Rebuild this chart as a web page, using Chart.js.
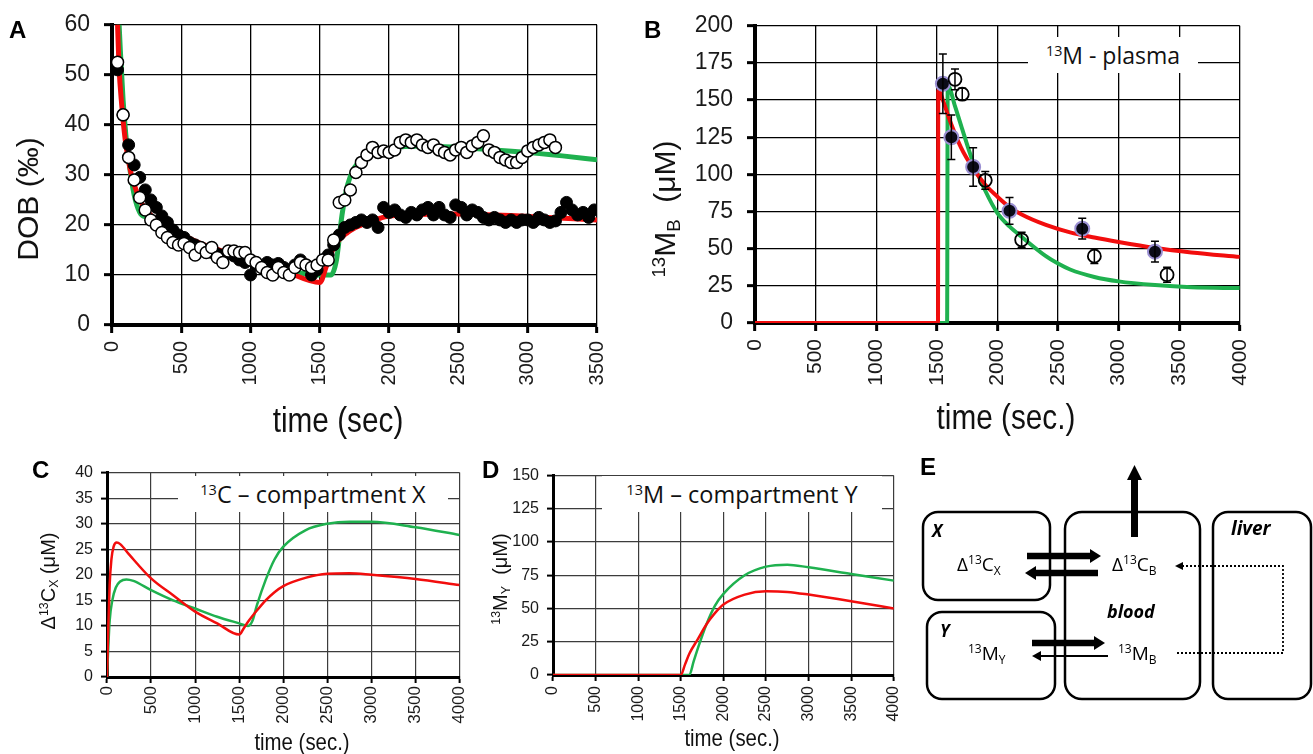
<!DOCTYPE html>
<html>
<head>
<meta charset="utf-8">
<script src="https://cdn.jsdelivr.net/npm/chart.js@4.4.1/dist/chart.umd.min.js"></script>
<style>
  body { margin: 0; background: #fff; width: 1313px; height: 754px; overflow: hidden; position: relative; }
  canvas { position: absolute; }
  .letter { position: absolute; font: bold 24px 'Liberation Sans', Arial, sans-serif; color: #000; }
  .ytitle { position: absolute; transform: translate(-50%, -50%) rotate(-90deg); white-space: nowrap;
            font-family: 'Liberation Sans', Arial, sans-serif; color: #111; }
  .xtitle { position: absolute; transform: translate(-50%, -50%) scaleX(0.85); white-space: nowrap;
            font-family: 'Liberation Sans', Arial, sans-serif; color: #111; }
  .note { position: absolute; background: #fff; display: flex; align-items: center; justify-content: center;
          font-family: 'Open Sans', 'Noto Sans', sans-serif; color: #111; white-space: nowrap; }
  sup { font-size: .62em; vertical-align: .55em; line-height: 0; }
  sub { font-size: .62em; vertical-align: -.25em; line-height: 0; }
  svg { position: absolute; }
</style>
</head>
<body>
<canvas id="chartA" width="629" height="453" style="left:0;top:-3px"></canvas>
<canvas id="chartB" width="633" height="452" style="left:640px;top:-2px"></canvas>
<canvas id="chartC" width="483" height="299" style="left:0;top:455px"></canvas>
<canvas id="chartD" width="458" height="296" style="left:460px;top:458px"></canvas>

<div class="letter" style="left:9px;top:16px">A</div>
<div class="letter" style="left:644px;top:16px">B</div>
<div class="letter" style="left:32px;top:456px">C</div>
<div class="letter" style="left:482px;top:456px">D</div>

<div class="ytitle" style="left:28px;top:199px;font-size:30px">DOB (‰)</div>
<div class="xtitle" style="left:338px;top:420px;font-size:35px">time (sec)</div>
<div class="ytitle" style="left:665px;top:209px;font-size:30px"><sup>13</sup>M<sub>B</sub>&nbsp;&nbsp;(μM)</div>
<div class="xtitle" style="left:1006px;top:417px;font-size:35px">time (sec.)</div>
<div class="ytitle" style="left:48px;top:581px;font-size:20px">Δ<sup>13</sup>C<sub>X</sub> (μM)</div>
<div class="xtitle" style="left:302px;top:742px;font-size:24px">time (sec.)</div>
<div class="ytitle" style="left:500px;top:579px;font-size:20px"><sup>13</sup>M<sub>Y</sub>&nbsp; (μM)</div>
<div class="xtitle" style="left:732px;top:738px;font-size:24px">time (sec.)</div>

<div class="note" style="left:1028px;top:37px;width:170px;height:36px;font-size:23px"><span><sup>13</sup>M - plasma</span></div>
<div class="note" style="left:178px;top:476px;width:270px;height:36px;font-size:23.5px"><span><sup>13</sup>C – compartment X</span></div>
<div class="note" style="left:602px;top:476px;width:280px;height:36px;font-size:23.5px"><span><sup>13</sup>M – compartment Y</span></div>

<svg width="413" height="299" style="left:900px;top:455px" font-family="'Open Sans','Noto Sans',sans-serif">
  <g transform="translate(-900,-455)" fill="none" stroke="#000">
    <rect x="923" y="512" width="127" height="88" rx="15" stroke-width="2.5"/>
    <rect x="927" y="612" width="128" height="87" rx="15" stroke-width="2.5"/>
    <rect x="1065" y="512" width="135" height="187" rx="17" stroke-width="2.5"/>
    <rect x="1213" y="512" width="98" height="187" rx="15" stroke-width="2.5"/>
    <!-- flux arrows -->
    <line x1="1027" y1="556" x2="1092" y2="556" stroke-width="6.5"/>
    <line x1="1034" y1="573" x2="1098" y2="573" stroke-width="6.5"/>
    <line x1="1032" y1="643" x2="1096" y2="643" stroke-width="6.5"/>
    <line x1="1040" y1="656" x2="1108" y2="656" stroke-width="1.8"/>
    <line x1="1134.5" y1="537" x2="1134.5" y2="478" stroke-width="7"/>
    <polyline points="1182,566 1283,566 1283,653 1176,653" stroke-width="1.8" stroke-dasharray="2,2"/>
  </g>
  <g transform="translate(-900,-455)" fill="#000" stroke="none">
    <polygon points="1090,549 1101,556 1090,563"/>
    <polygon points="1036,566 1025,573 1036,580"/>
    <polygon points="1094,636 1105,643 1094,650"/>
    <polygon points="1041,651 1032,656 1041,661"/>
    <polygon points="1127,480 1134.5,465 1142,480"/>
    <polygon points="1183,562 1175,566 1183,570"/>
    <text x="920" y="475" font-family="'Liberation Sans',Arial,sans-serif" font-weight="bold" font-size="24">E</text>
    <text x="932" y="537" font-weight="bold" font-style="italic" font-size="17">X</text>
    <text x="940" y="637" font-weight="bold" font-style="italic" font-size="17">Y</text>
    <text x="1107" y="618" font-weight="bold" font-style="italic" font-size="18">blood</text>
    <text x="1231" y="535" font-weight="bold" font-style="italic" font-size="19">liver</text>
    <text x="957" y="571" font-size="19">Δ<tspan font-size="12" dy="-7">13</tspan><tspan dy="7">C</tspan><tspan font-size="12" dy="4">X</tspan></text>
    <text x="1112" y="571" font-size="19">Δ<tspan font-size="12" dy="-7">13</tspan><tspan dy="7">C</tspan><tspan font-size="12" dy="4">B</tspan></text>
    <text x="968" y="660" font-size="19"><tspan font-size="12" dy="-7">13</tspan><tspan dy="7">M</tspan><tspan font-size="12" dy="4">Y</tspan></text>
    <text x="1118" y="660" font-size="19"><tspan font-size="12" dy="-7">13</tspan><tspan dy="7">M</tspan><tspan font-size="12" dy="4">B</tspan></text>
  </g>
</svg>

<script>
// ---- Panel A: breath test DOB (‰), sampled every 40 s
const dobTimes = [40,80,120,160,200,240,280,320,360,400,440,480,520,560,600,640,680,720,760,800,
  840,880,920,960,1000,1040,1080,1120,1160,1200,1240,1280,1320,1360,1400,1440,1480,1520,1560,1600,
  1640,1680,1720,1760,1800,1840,1880,1920,1960,2000,2040,2080,2120,2160,2200,2240,2280,2320,2360,2400,
  2440,2480,2520,2560,2600,2640,2680,2720,2760,2800,2840,2880,2920,2960,3000,3040,3080,3120,3160,3200,
  3240,3280,3320,3360,3400,3440,3480];
const dobFilled = [51,42,36,32,29.5,27,25,23.5,21.8,20.5,19,18,17.5,16.5,16,15.3,15,14.5,14.2,14,
  14.3,13.8,13,12.5,10,12,11.5,12.5,12,12.3,11.5,11,12,13,12,10,11,13,14,16,
  18,19.5,20,20.5,21,20.5,21,19.5,23.5,22.5,23,22,21.5,22.5,22,23,23.5,22,23.5,22,
  21.5,24,23.5,22,23,22.5,21.5,21,21.5,21,20.5,21,20.5,21,21,20.5,21.5,21,20.5,20.8,
  22.5,24.5,23,22,22.5,21.5,23];
const dobOpen = [52.5,42,33.5,29,25.5,23,21,20,18.5,17.5,16.5,16,16.3,15.5,14,15.5,14.5,15.5,13.5,12.5,
  14.8,14.8,14.5,14.5,13,12.5,11.5,10.5,10,11.5,10.5,10,11.5,12.5,12,11.5,12,13,13,17,
  24.5,25,27,30.5,32.5,34,35.5,34.5,34.8,34.5,35,36.5,37,36.5,37,36,35.5,36,35,34.5,
  34,35,35.5,34.5,35.8,36.5,37.8,35,34.5,33.5,33,32.5,32.5,33.5,34.8,35.5,36,36.5,37,35.5];
const fitRedAT = [38,50,70,100,140,180,230,300,400,500,600,750,900,1000,1250,1500,1550,1600,1700,1800,1900,2000,2500,3000,3500];
const fitRedAV = [62,52,44,36,30,26.5,23.5,21.5,19.8,18.2,16.8,15.2,13.8,12.8,10.7,8.5,12,15.5,18.5,20,21,21.8,22.2,21.7,21];
const fitGreenAT = [48,60,80,100,130,160,200,250,300,400,500,750,1000,1250,1500,1580,1620,1660,1700,1750,1800,1900,2000,2250,2500,2750,3000,3250,3500];
const fitGreenAV = [62,55,45,38,31,26,22.5,21.5,21,19.5,18,15,13,11,10,10,13,22,28,31.5,33,34.5,35.3,35.8,35.5,35,34.5,33.8,33];

// ---- Panel B: plasma 13M
const plasmaFilledT = [1550,1620,1800,2100,2700,3300];
const plasmaFilledV = [161,125,105,75.5,63.5,48];
const plasmaFilledErr = [20,15,13,9,7,7];
const plasmaOpenT = [1650,1710,1900,2200,2800,3400];
const plasmaOpenV = [164,154,96,56,45,32.5];
const plasmaOpenErr = [7,4,6,5,5,5];
const fitRedBT = [0,1510,1512,1550,1600,1700,1800,1900,2000,2100,2200,2400,2600,2800,3000,3300,3600,4000];
const fitRedBV = [0,0,157,150,138,118,104,93,85,78,73,66,61,57.5,54.5,50.5,47.5,44.5];
const fitGreenBT = [0,1585,1590,1650,1700,1800,1900,2000,2100,2200,2400,2500,2600,2800,3000,3300,3600,4000];
const fitGreenBV = [0,0,160,146,133,108,89,74,65,58,45,40,36,31,28,25.5,24,23.5];

// ---- Panel C: 13C compartment X
const compXRedT = [0,15,30,50,75,110,150,250,500,750,1000,1250,1500,1550,1600,1700,1800,1900,2000,2250,2500,2750,3000,3500,4000];
const compXRedV = [0,10,18,23,25.5,26.3,26,24,19.3,16,12.8,10.5,8.3,9.5,10.8,13,15,16.6,17.8,19.4,20.2,20.3,20,19.2,18];
const compXGreenT = [0,15,30,60,100,150,220,300,500,750,1000,1250,1500,1600,1650,1700,1800,1900,2000,2250,2500,2750,3000,3500,4000];
const compXGreenV = [0,6,11,15,17.5,18.7,19.1,18.8,17,15,13.4,11.8,10.5,10,11,14,19,23,25.5,28.7,30,30.4,30.4,29.3,27.8];

// ---- Panel D: 13M compartment Y
const compYRedT = [0,1500,1550,1600,1700,1800,1900,2000,2250,2500,2750,3000,3500,4000];
const compYRedV = [0,0,8,16,27,38,46.5,53,60.5,63,62.5,60.5,55.5,50];
const compYGreenT = [0,1600,1650,1700,1800,1900,2000,2250,2500,2750,3000,3500,4000];
const compYGreenV = [0,0,10,20,38,52,61,75,81.5,83,81,76,71];

const RED = '#f20d0d';
const GREEN = '#1fb14f';
const REGULAR = "'Liberation Sans', Arial, sans-serif";

const pairs = (ts, vs) => ts.map((t, i) => ({x: t, y: vs[i]}));

// Error bars drawn through the library scales
const errorBars = {
    id: 'errorBars',
    afterDatasetsDraw(chart) {
        const {ctx, scales: {x, y}} = chart;
        chart.data.datasets.forEach(ds => {
            if (!ds.errors) return;
            ctx.save();
            ctx.strokeStyle = '#000';
            ctx.lineWidth = 1.5;
            ds.data.forEach((p, i) => {
                const e = ds.errors[i];
                const px = x.getPixelForValue(p.x);
                const top = y.getPixelForValue(p.y + e);
                const bot = y.getPixelForValue(p.y - e);
                ctx.beginPath();
                ctx.moveTo(px, top); ctx.lineTo(px, bot);
                ctx.moveTo(px - 4, top); ctx.lineTo(px + 4, top);
                ctx.moveTo(px - 4, bot); ctx.lineTo(px + 4, bot);
                ctx.stroke();
            });
            ctx.restore();
        });
    }
};

function fitLine(data, color, width, order) {
    return {type: 'line', data, borderColor: color, borderWidth: width, pointRadius: 0,
            cubicInterpolationMode: 'monotone', fill: false, order};
}

function makeChart(id, datasets, o) {
    return new Chart(document.getElementById(id), {
        type: 'scatter',
        data: {datasets},
        plugins: [errorBars],
        options: {
            responsive: false,
            devicePixelRatio: 1,
            animation: false,
            events: [],
            layout: {padding: 0},
            plugins: {legend: {display: false}, tooltip: {enabled: false}},
            scales: {
                x: {
                    type: 'linear', min: 0, max: o.xMax,
                    afterFit: s => { s.height = o.xHeight; },
                    ticks: {stepSize: 500, minRotation: 90, maxRotation: 90, autoSkip: false,
                            callback: v => String(v),
                            padding: o.xPad, color: '#1a1a1a', font: {family: REGULAR, size: o.xFont}},
                    grid: {color: o.gridColor, lineWidth: o.gridWidth, tickLength: o.tickLen,
                           tickColor: '#000', tickWidth: o.axisWidth - 1},
                    border: {color: '#000', width: o.axisWidth}
                },
                y: {
                    type: 'linear', min: 0, max: o.yMax,
                    afterFit: s => { s.width = o.yWidth; },
                    ticks: {stepSize: o.yStep, padding: o.yPad, color: '#1a1a1a',
                            callback: v => String(v),
                            font: {family: REGULAR, size: o.yFont}},
                    grid: {color: o.gridColor, lineWidth: o.gridWidth, tickLength: o.tickLen,
                           tickColor: '#000', tickWidth: o.axisWidth - 1},
                    border: {color: '#000', width: o.axisWidth}
                }
            }
        }
    });
}

makeChart('chartA', [
    {data: pairs(dobTimes.slice(0, dobOpen.length), dobOpen), pointRadius: 6, pointBackgroundColor: '#fff',
     pointBorderColor: '#000', pointBorderWidth: 1.5, order: 0},
    {data: pairs(dobTimes, dobFilled), pointRadius: 6, pointBackgroundColor: '#000',
     pointBorderColor: '#000', pointBorderWidth: 1, order: 1},
    fitLine(pairs(fitRedAT, fitRedAV), RED, 5, 2),
    fitLine(pairs(fitGreenAT, fitGreenAV), GREEN, 5, 3)
], {xMax: 3500, yMax: 60, yStep: 10, yWidth: 112, xHeight: 125,
    gridColor: '#000', gridWidth: 1.3, axisWidth: 4, tickLen: 8, yFont: 23, xFont: 20, yPad: 14, xPad: 8});

makeChart('chartB', [
    {data: pairs(plasmaFilledT, plasmaFilledV), errors: plasmaFilledErr, pointRadius: 7,
     pointBackgroundColor: '#0b0b18', pointBorderColor: '#9a8fd2', pointBorderWidth: 2, order: 1},
    {data: pairs(plasmaOpenT, plasmaOpenV), errors: plasmaOpenErr, pointRadius: 6.5,
     pointBackgroundColor: 'rgba(255,255,255,0)', pointBorderColor: '#000', pointBorderWidth: 1.8, order: 0},
    fitLine(pairs(fitRedBT, fitRedBV), RED, 4, 2),
    fitLine(pairs(fitGreenBT, fitGreenBV), GREEN, 4, 3)
], {xMax: 4000, yMax: 200, yStep: 25, yWidth: 115, xHeight: 127,
    gridColor: '#000', gridWidth: 1.3, axisWidth: 4, tickLen: 8, yFont: 23, xFont: 21, yPad: 14, xPad: 8});

makeChart('chartC', [
    fitLine(pairs(compXRedT, compXRedV), RED, 2.5, 0),
    fitLine(pairs(compXGreenT, compXGreenV), GREEN, 2.5, 1)
], {xMax: 4000, yMax: 40, yStep: 5, yWidth: 107, xHeight: 77,
    gridColor: '#3c3c3c', gridWidth: 1.2, axisWidth: 3, tickLen: 6, yFont: 16, xFont: 17, yPad: 8, xPad: 3});

makeChart('chartD', [
    fitLine(pairs(compYRedT, compYRedV), RED, 2.5, 0),
    fitLine(pairs(compYGreenT, compYGreenV), GREEN, 2.5, 1)
], {xMax: 4000, yMax: 150, yStep: 25, yWidth: 93, xHeight: 79,
    gridColor: '#3c3c3c', gridWidth: 1.2, axisWidth: 3, tickLen: 6, yFont: 16, xFont: 16, yPad: 8, xPad: 5});
</script>
</body>
</html>
